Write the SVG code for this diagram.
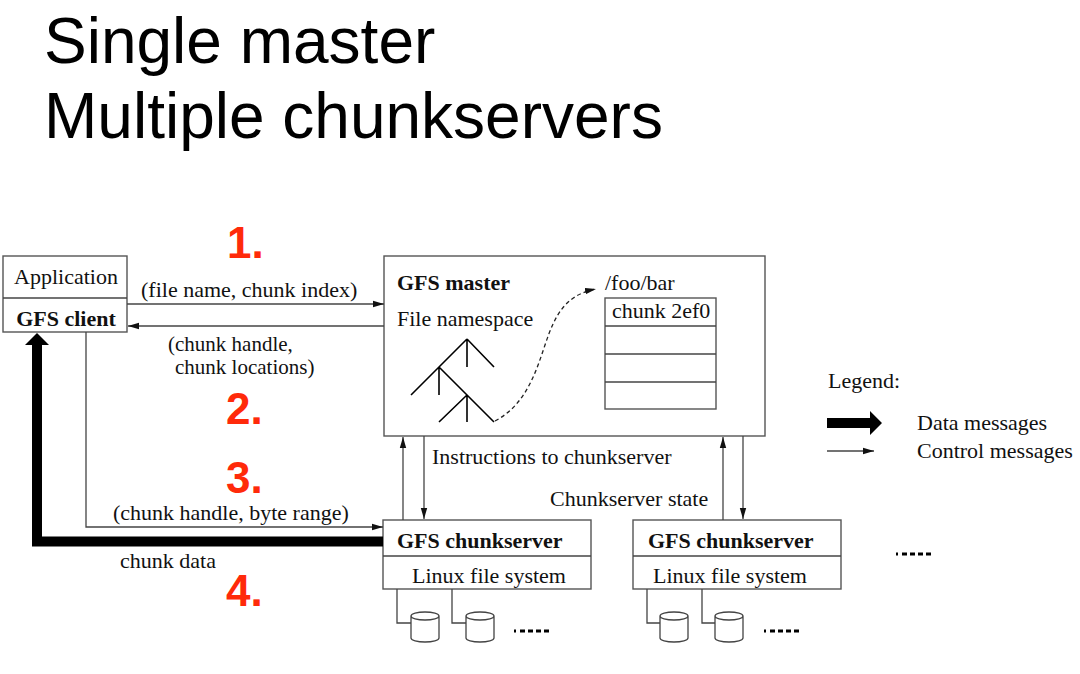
<svg xmlns="http://www.w3.org/2000/svg" width="1080" height="674" viewBox="0 0 1080 674">
<style>
.t{font-family:"Liberation Serif","Times New Roman",serif;font-size:22px;fill:#111}
.s{font-size:21px}
.b{font-weight:bold}
.title{font-family:"Liberation Sans",Arial,sans-serif;font-size:64px;fill:#000}
.num{font-family:"Liberation Sans",Arial,sans-serif;font-size:44px;font-weight:bold;fill:#ff2a0a}
.box{fill:#fff;stroke:#555;stroke-width:1.4}
.ln{fill:none;stroke:#444;stroke-width:1.3}
.tree{fill:none;stroke:#000;stroke-width:1.6}
.dots{fill:none;stroke:#000;stroke-width:3;stroke-dasharray:2 4 5 3 5 3 5 3 5}
</style>
<defs>
<marker id="ah" markerWidth="12" markerHeight="8" refX="11" refY="4" orient="auto" markerUnits="userSpaceOnUse">
<path d="M0,0.8 L11,4 L0,7.2 Z" fill="#111"/>
</marker>
</defs>
<rect width="1080" height="674" fill="#fff"/>
<text class="title" x="44" y="63">Single master</text>
<text class="title" x="44" y="138">Multiple chunkservers</text>

<g id="step-numbers">
<text class="num" x="227" y="258">1.</text>
<text class="num" x="226" y="424">2.</text>
<text class="num" x="226" y="493">3.</text>
<text class="num" x="226" y="606">4.</text>
</g>

<g id="client">
<rect class="box" x="3" y="256" width="124" height="76"/>
<line class="ln" x1="3" y1="298" x2="127" y2="298"/>
<text class="t" x="66" y="284" text-anchor="middle">Application</text>
<text class="t b" x="66" y="326" text-anchor="middle">GFS client</text>
</g>

<g id="master">
<rect class="box" x="384" y="256" width="381" height="180"/>
<text class="t b" x="397" y="290">GFS master</text>
<text class="t" x="397" y="326">File namespace</text>
<path class="tree" d="M467,339 L411,395 M467,339 L494,367 M467,339 V367 M439,367 V395 M439,367 L494,422 M467,395 L439,422 M467,395 V422"/>
<text class="t" x="605" y="290">/foo/bar</text>
<rect class="box" x="605" y="298" width="111" height="111"/>
<line class="ln" x1="605" y1="326" x2="716" y2="326"/>
<line class="ln" x1="605" y1="354" x2="716" y2="354"/>
<line class="ln" x1="605" y1="382" x2="716" y2="382"/>
<text class="t" x="612" y="318">chunk 2ef0</text>
</g>

<g id="chunkserver1">
<rect class="box" x="383" y="520" width="208" height="69"/>
<line class="ln" x1="383" y1="556" x2="591" y2="556"/>
<text class="t b" x="397" y="548">GFS chunkserver</text>
<text class="t" x="412" y="583">Linux file system</text>
<path class="ln" d="M397,589 V623 H411 M452,589 V623 H466"/>
<path class="ln" d="M411,616 V638 A14,4 0 0 0 439,638 V616 M411,616 A14,4 0 0 1 439,616 A14,4 0 0 1 411,616"/>
<path class="ln" d="M466,616 V638 A14,4 0 0 0 494,638 V616 M466,616 A14,4 0 0 1 494,616 A14,4 0 0 1 466,616"/>
<line class="dots" x1="514" y1="631" x2="550" y2="631"/>
</g>

<g id="chunkserver2">
<rect class="box" x="633" y="520" width="208" height="69"/>
<line class="ln" x1="633" y1="556" x2="841" y2="556"/>
<text class="t b" x="648" y="548">GFS chunkserver</text>
<text class="t" x="653" y="583">Linux file system</text>
<path class="ln" d="M647,589 V623 H660 M702,589 V623 H715"/>
<path class="ln" d="M660,616 V638 A14,4 0 0 0 688,638 V616 M660,616 A14,4 0 0 1 688,616 A14,4 0 0 1 660,616"/>
<path class="ln" d="M715,616 V638 A14,4 0 0 0 743,638 V616 M715,616 A14,4 0 0 1 743,616 A14,4 0 0 1 715,616"/>
<line class="dots" x1="764" y1="631" x2="800" y2="631"/>
</g>

<g id="more-chunkservers">
<line class="dots" x1="896" y1="554" x2="932" y2="554"/>
</g>

<g id="connectors">
<line class="ln" x1="127" y1="304" x2="384" y2="304" marker-end="url(#ah)"/>
<line class="ln" x1="384" y1="326" x2="128" y2="326" marker-end="url(#ah)"/>
<path class="ln" d="M86,332 V527 H383" marker-end="url(#ah)"/>
<path d="M383,541.5 H37 V343" fill="none" stroke="#000" stroke-width="10" stroke-linejoin="miter"/>
<polygon points="37,333 25,345 49,345" fill="#000"/>
<line class="ln" x1="403" y1="520" x2="403" y2="437" marker-end="url(#ah)"/>
<line class="ln" x1="424" y1="436" x2="424" y2="519" marker-end="url(#ah)"/>
<line class="ln" x1="723" y1="520" x2="723" y2="437" marker-end="url(#ah)"/>
<line class="ln" x1="743" y1="436" x2="743" y2="519" marker-end="url(#ah)"/>
<path d="M495,421 C525,405 535,375 545,345 S565,295 596,289" fill="none" stroke="#222" stroke-width="1.3" stroke-dasharray="4 3" marker-end="url(#ah)"/>
</g>

<g id="labels">
<text class="t" x="141" y="297">(file name, chunk index)</text>
<text class="t s" x="168" y="351">(chunk handle,</text>
<text class="t s" x="175" y="374">chunk locations)</text>
<text class="t" x="113" y="520">(chunk handle, byte range)</text>
<text class="t" x="120" y="568">chunk data</text>
<text class="t" x="432" y="464">Instructions to chunkserver</text>
<text class="t" x="550" y="506">Chunkserver state</text>
</g>

<g id="legend">
<text class="t" x="828" y="388">Legend:</text>
<polygon points="827,418 870,418 870,411 882,423 870,435 870,428 827,428" fill="#000"/>
<text class="t" x="917" y="430">Data messages</text>
<line class="ln" x1="827" y1="451" x2="874" y2="451" marker-end="url(#ah)"/>
<text class="t" x="917" y="458">Control messages</text>
</g>
</svg>
